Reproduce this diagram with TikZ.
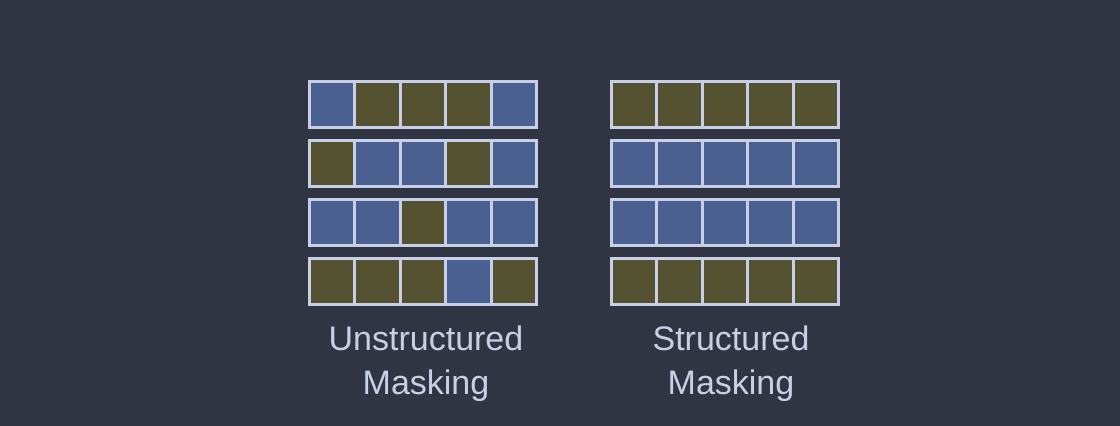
\documentclass[tikz,border=0pt]{standalone}
\usepackage{fontspec}
\setmainfont{Liberation Sans}
\definecolor{bg}{HTML}{313543}
\definecolor{cb}{HTML}{4A6090}
\definecolor{co}{HTML}{545230}
\definecolor{ln}{HTML}{C8D0E8}
\tikzset{cell/.style={draw=ln,line width=3pt,minimum width=45.4pt,minimum height=46pt,inner sep=0pt,anchor=north west},
lbl/.style={text=ln,font=\fontsize{34}{44}\selectfont,align=center,anchor=north}}
\begin{document}
\begin{tikzpicture}[x=1pt,y=-1pt]
\fill[bg] (0,0) rectangle (1120,426);
\useasboundingbox (0,0) rectangle (1120,426);
\def\rows{80,139,198,257}
\foreach \pat [count=\r] in {{cb,co,co,co,cb},{co,cb,cb,co,cb},{cb,cb,co,cb,cb},{co,co,co,cb,co}}{
  \pgfmathsetmacro\yy{80+(\r-1)*59}
  \foreach \c [count=\i] in \pat {
    \node[cell,fill=\c] (L\r\i) at ({308+(\i-1)*45.4},\yy) {};
  }
}
\foreach \c [count=\r] in {co,cb,cb,co}{
  \pgfmathsetmacro\yy{80+(\r-1)*59}
  \foreach \i in {1,...,5}{
    \node[cell,fill=\c] (R\r\i) at ({610+(\i-1)*45.4},\yy) {};
  }
}
\node[lbl] (tl) at (426,322) {Unstructured\\Masking};
\node[lbl] (tr) at (731,322) {Structured\\Masking};
\end{tikzpicture}
\end{document}
